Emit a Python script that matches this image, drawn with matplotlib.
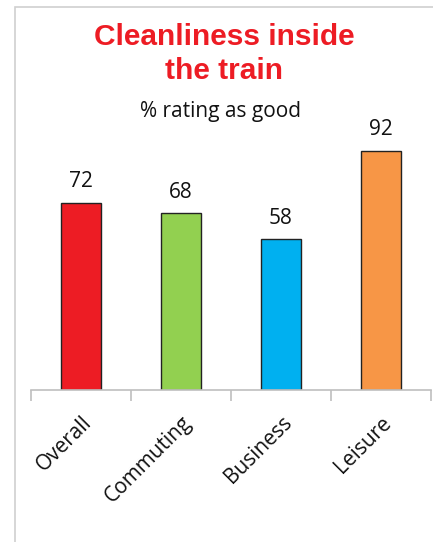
import numpy as np
import matplotlib.pyplot as plt
from matplotlib.patches import Rectangle

# Datos
categorias = ['Overall', 'Commuting', 'Business', 'Leisure']
valores = [72, 68, 58, 92]
colores = ['#ED1C24', '#92D050', '#00B0F0', '#F79646']

W, H = 433, 542
fig = plt.figure(figsize=(W / 100, H / 100), dpi=100)

# Marco gris del gráfico
fig.patches.append(Rectangle((15 / W, -0.1), 2, 1.1 - 7 / H, transform=fig.transFigure,
                             fill=False, edgecolor='#D0D0D0', linewidth=1.2))

ax = fig.add_axes([31 / W, 1 - 390 / H, 400 / W, 260 / H])
x = np.arange(len(categorias))
barras = ax.bar(x, valores, width=0.4, color=colores, edgecolor='#222222', linewidth=1.0)

for xi, v in zip(x, valores):
    ax.text(xi, v + 4.0, str(v), ha='center', va='bottom', fontsize=15,
            family='Open Sans', color='#111111')

ax.set_xlim(-0.5, 3.5)
ax.set_ylim(0, 100)
ax.set_yticks([])
for s in ['top', 'right', 'left']:
    ax.spines[s].set_visible(False)
ax.spines['bottom'].set_color('#BFBFBF')
ax.spines['bottom'].set_linewidth(1.2)

ax.set_xticks(x)
ax.set_xticklabels(categorias, rotation=45, ha='right', rotation_mode='anchor',
                   fontsize=15, family='Open Sans', color='#111111')
ax.tick_params(axis='x', which='major', length=0, pad=16)
ax.set_xticks(np.arange(-0.5, 4, 1), minor=True)
ax.tick_params(axis='x', which='minor', length=8, width=1.2, color='#BFBFBF')

# Título
fig.text(224 / W, 1 - 54 / H, 'Cleanliness inside\nthe train', ha='center', va='center',
         fontsize=21.5, fontweight='bold', color='#ED1C24', family='Liberation Sans',
         linespacing=1.25)
fig.text(220 / W, 1 - 112 / H, '% rating as good', ha='center', va='center',
         fontsize=15, family='Open Sans', color='#111111')

fig.savefig('out.png', dpi=100)
